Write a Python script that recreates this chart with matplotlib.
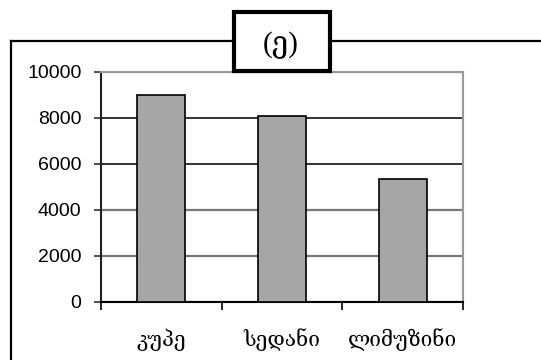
import matplotlib
matplotlib.use("Agg")
import matplotlib.pyplot as plt
from matplotlib.patches import Rectangle
from matplotlib.lines import Line2D
import numpy as np

categories = ["კუპე", "სედანი", "ლიმუზინი"]
values = [9000, 8100, 5350]
yticks = [0, 2000, 4000, 6000, 8000, 10000]
title = "(ე)"

W, H = 541, 360
fig = plt.figure(figsize=(W / 100, H / 100), dpi=100)

def fx(px):
    return px / W

def fy(py):
    return 1 - py / H

# plot area in pixel coords
left, right, top, bottom = 101, 463, 72, 302
ax = fig.add_axes([fx(left), fy(bottom), fx(right - left), (bottom - top) / H])

x = np.arange(len(categories))
ax.bar(x, values, width=0.4, color="#a6a6a6", edgecolor="black", linewidth=1.2, zorder=3)

ax.set_xlim(-0.5, len(categories) - 0.5)
ax.set_ylim(0, 10000)
ax.set_yticks(yticks)
ax.set_yticklabels([str(v) for v in yticks], family="Liberation Sans", fontsize=14)

# category ticks sit on the boundaries, labels in the middle
ax.set_xticks(np.arange(len(categories) + 1) - 0.5)
ax.set_xticklabels([])
ax.set_xticks(x, minor=True)
ax.set_xticklabels(categories, minor=True, family="DejaVu Serif", fontsize=15)
ax.tick_params(axis="x", which="minor", length=0, pad=19)
ax.tick_params(axis="x", which="major", length=6, width=1.2, color="black")
ax.tick_params(axis="y", length=5, width=1.2, color="#333333", pad=9)

ax.yaxis.grid(True, zorder=0)
grid_colors = ["#777777", "#777777", "#777777", "#111111", "#111111", "#888888"]
grid_widths = [1.6, 1.6, 1.6, 1.2, 1.2, 1.6]
for gl, c, lw in zip(ax.get_ygridlines(), grid_colors, grid_widths):
    gl.set_color(c)
    gl.set_linewidth(lw)
ax.set_axisbelow(True)

ax.spines["left"].set_color("#222222")
ax.spines["left"].set_linewidth(1.5)
ax.spines["bottom"].set_color("black")
ax.spines["bottom"].set_linewidth(1.5)
for s in ("top", "right"):
    ax.spines[s].set_color("#999999")
    ax.spines[s].set_linewidth(1.5)

# outer frame running off the right and bottom edges
fig.add_artist(Line2D([fx(11), fx(11)], [fy(41), fy(H + 5)], color="black", lw=1.6))
fig.add_artist(Line2D([fx(11), fx(W + 5)], [fy(41), fy(41)], color="black", lw=1.6))

# boxed title
box = Rectangle((fx(234), fy(71)), fx(330 - 234), (71 - 12) / H, transform=fig.transFigure,
                facecolor="white", edgecolor="black", linewidth=3, zorder=10)
fig.add_artist(box)
fig.text(fx(281), fy(45), title, ha="center", va="center",
         family=["Liberation Serif", "DejaVu Serif"], fontsize=21, zorder=11)

fig.savefig("out.png", dpi=100)
